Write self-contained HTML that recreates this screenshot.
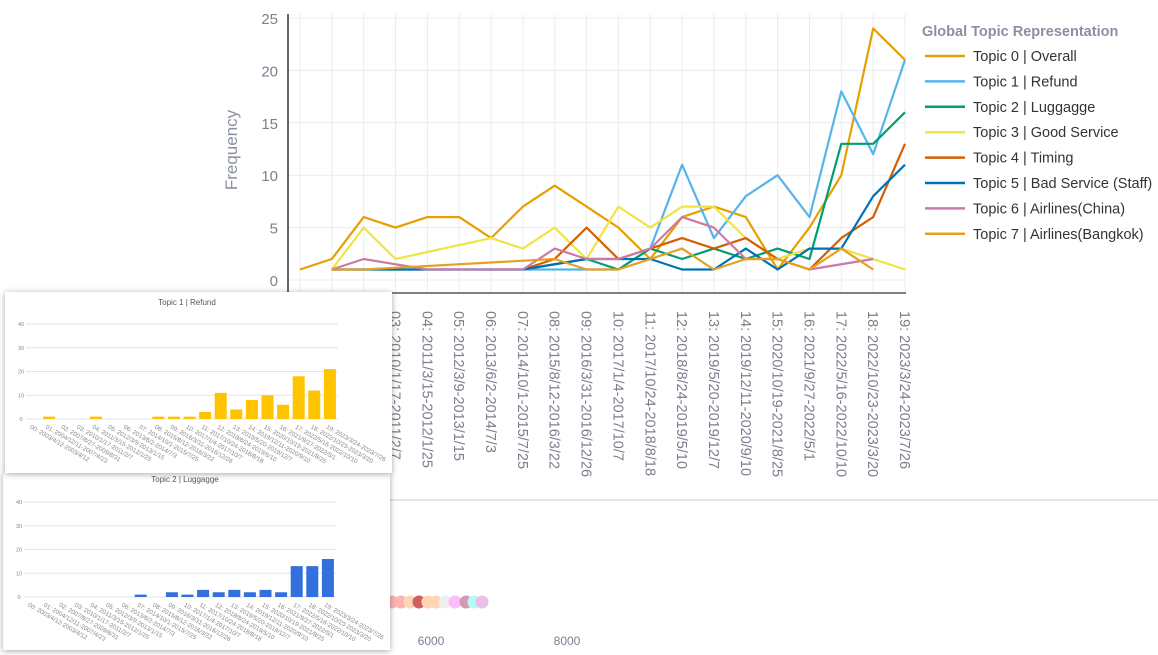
<!DOCTYPE html>
<html><head><meta charset="utf-8">
<style>
body{margin:0;width:1158px;height:654px;background:#fff;position:relative;overflow:hidden;font-family:"Liberation Sans",sans-serif}
.panel{position:absolute;background:#fff;box-shadow:0 1px 6px rgba(0,0,0,0.35)}
</style></head>
<body>
<svg id="main" width="1158" height="654" style="position:absolute;left:0;top:0"></svg>
<div class="panel" id="p2" style="left:3px;top:473px;width:387px;height:177px"><svg id="s2" width="387" height="177"></svg></div>
<div class="panel" id="p1" style="left:5px;top:292px;width:387px;height:181px"><svg id="s1" width="387" height="181"></svg></div>
<script>
const categories=["00: 2003/4/12-2003/4/12","01: 2004/12/11-2007/4/23","02: 2007/8/27-2009/8/31","03: 2010/1/17-2011/2/7","04: 2011/3/15-2012/1/25","05: 2012/3/9-2013/1/15","06: 2013/6/2-2014/7/3","07: 2014/10/1-2015/7/25","08: 2015/8/12-2016/3/22","09: 2016/3/31-2016/12/26","10: 2017/1/4-2017/10/7","11: 2017/10/24-2018/8/18","12: 2018/8/24-2019/5/10","13: 2019/5/20-2019/12/7","14: 2019/12/11-2020/9/10","15: 2020/10/19-2021/8/25","16: 2021/9/27-2022/5/1","17: 2022/5/16-2022/10/10","18: 2022/10/23-2023/3/20","19: 2023/3/24-2023/7/26"];
const yTicks=[0,5,10,15,20,25];
const topicNames=["Topic 0 | Overall","Topic 1 | Refund","Topic 2 | Luggagge","Topic 3 | Good Service","Topic 4 | Timing","Topic 5 | Bad Service (Staff)","Topic 6 | Airlines(China)","Topic 7 | Airlines(Bangkok)"];
const topicColors=["#E69F00","#56B4E9","#009E73","#F0E442","#D55E00","#0072B2","#CC79A7","#E6A020"];
const t0=[1,2,6,5,6,6,4,7,9,7,5,2,6,7,6,1,5,10,24,21];
const t1=[null,1,1,null,null,null,null,null,1,1,1,3,11,4,8,10,6,18,12,21];
const t2=[null,null,null,null,null,null,null,1,null,2,1,3,2,3,2,3,2,13,13,16];
const t3=[null,1,5,2,null,null,4,3,5,2,7,5,7,7,4,2,3,3,null,1];
const t4=[null,null,null,null,null,null,null,1,2,5,2,3,4,3,4,2,1,4,6,13];
const t5=[null,1,1,null,null,null,null,1,null,2,2,2,1,1,3,1,3,3,8,11];
const t6=[null,1,2,null,1,null,null,1,3,2,2,3,6,5,2,2,1,null,2,null];
const t7=[null,1,1,null,null,null,null,null,2,1,1,2,3,1,2,2,1,3,1,null];
const series=[t0,t1,t2,t3,t4,t5,t6,t7];
const refundBars=[0,1,0,0,1,0,0,0,1,1,1,3,11,4,8,10,6,18,12,21];
const luggageBars=[0,0,0,0,0,0,0,1,0,2,1,3,2,3,2,3,2,13,13,16];
const insetTicks=[0,10,20,30,40];
const NS="http://www.w3.org/2000/svg";
function mk(p,tag,attrs,txt){const e=document.createElementNS(NS,tag);for(const k in attrs)e.setAttribute(k,attrs[k]);if(txt!==undefined)e.textContent=txt;p.appendChild(e);return e;}
const svg=document.getElementById('main');
const X=i=>300+i*(605/19);
const Y=v=>280-v*10.48;
categories.forEach((c,i)=>{const g=mk(svg,'line',{x1:X(i),x2:X(i),y1:14,y2:292,stroke:'#e8ecf3','stroke-width':1});

});
yTicks.forEach(v=>{const g=mk(svg,'line',{x1:289,x2:906,y1:Y(v),y2:Y(v),stroke:'#e8ecf3','stroke-width':1});


const t=mk(svg,'text',{x:278,y:Y(v)+6,'text-anchor':'end','font-size':15,fill:'#7a8090'},String(v));

});
mk(svg,'line',{x1:288,x2:288,y1:14,y2:295,stroke:'#333','stroke-width':1.5});
mk(svg,'line',{x1:300,x2:906,y1:293,y2:293,stroke:'#555','stroke-width':1.5});
const yt=mk(svg,'text',{x:237,y:150,'text-anchor':'middle','font-size':17,fill:'#8a90a0',transform:'rotate(-90 237 150)'},'Frequency');


categories.forEach((c,i)=>{const t=mk(svg,'text',{x:X(i)-5,y:311,'font-size':14.5,fill:'#7a7f8c',transform:`rotate(90 ${X(i)-5} 311)`},c);

});
series.forEach((s,k)=>{let d='';let pen=false;s.forEach((v,i)=>{if(v===null)return;d+=(pen?'L':'M')+X(i).toFixed(1)+' '+Y(v).toFixed(1);pen=true;});
const p=mk(svg,'path',{d:d,fill:'none',stroke:topicColors[k],'stroke-width':2.2,'stroke-linejoin':'round'});

});
const lt=mk(svg,'text',{x:922,y:36,'font-size':14.5,'font-weight':'bold',fill:'#8a90a0'},'Global Topic Representation');


topicNames.forEach((n,i)=>{const y=56+i*25.4;
const l=mk(svg,'line',{x1:925,x2:965,y1:y,y2:y,stroke:topicColors[i],'stroke-width':2.5});


const t=mk(svg,'text',{x:973,y:y+5,'font-size':14.5,fill:'#333'},n);

});
mk(svg,'line',{x1:390,x2:1158,y1:500,y2:500,stroke:'#ccc','stroke-width':1});
const dots=[[392,'#ffb3b3'],[401,'#ffb3b3'],[410,'#ffd5b5'],[419,'#d06060'],[428,'#ffd5b5'],[436,'#ffd5b5'],[445,'#eeeeee'],[455,'#fbbdfb'],[466,'#d49ab0'],[474,'#b8f8f8'],[482,'#e8c0e8']];
dots.forEach(d=>{const c=mk(svg,'circle',{cx:d[0],cy:602,r:6.5,fill:d[1]});

});
[[431,'6000'],[567,'8000']].forEach(a=>{const t=mk(svg,'text',{x:a[0],y:645,'text-anchor':'middle','font-size':12,fill:'#7a8090'},a[1]);

});
function inset(id,title,vals,color,y0,y40,titleY){
const s=document.getElementById(id);
const bx=i=>28.5+i*15.6;
const by=v=>y0-v*(y0-y40)/40;
const tt=mk(s,'text',{x:182,y:titleY,'text-anchor':'middle','font-size':8,fill:'#555'},title);


insetTicks.forEach(v=>{mk(s,'line',{x1:21,x2:333,y1:by(v),y2:by(v),stroke:'#e6e6e6','stroke-width':1});
const t=mk(s,'text',{x:16,y:by(v)+2,'text-anchor':'middle','font-size':5.5,fill:'#888'},String(v));

});
vals.forEach((v,i)=>{if(v>0){const r=mk(s,'rect',{x:bx(i)-6,y:by(v),width:12,height:by(0)-by(v),fill:color});

}
const t=mk(s,'text',{x:bx(i)-4,y:by(0)+9,'font-size':6.2,fill:'#888',transform:`rotate(30 ${bx(i)-4} ${by(0)+9})`},categories[i]);

});
}
inset('s1','Topic 1 | Refund',refundBars,'#FFC300',127,32,13);
inset('s2','Topic 2 | Luggagge',luggageBars,'#3370DD',124,29,9);
</script>
</body></html>
